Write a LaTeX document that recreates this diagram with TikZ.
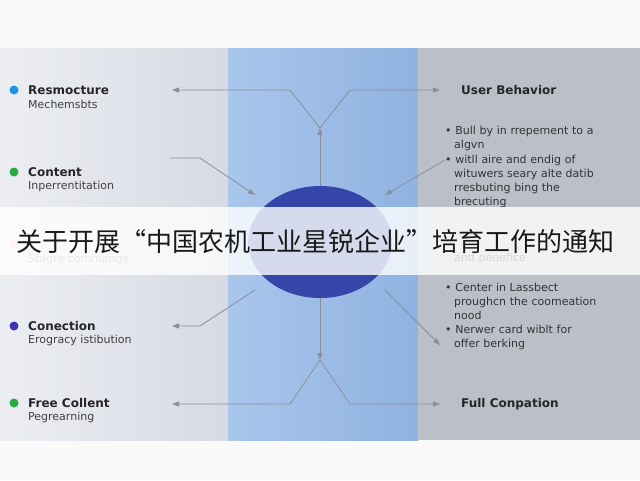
\documentclass[tikz,border=0pt]{standalone}
\usepackage{fontspec}
\setmainfont{DejaVu Sans}
\newfontfamily\cjk{Noto Sans CJK SC}
\usetikzlibrary{arrows.meta,shapes.geometric}
\definecolor{arr}{HTML}{8A8F9A}
\definecolor{lftL}{HTML}{ECEEF2}
\definecolor{lftR}{HTML}{D6DAE2}
\definecolor{midL}{HTML}{A9C6EC}
\definecolor{midR}{HTML}{8FB2E0}
\definecolor{rgt}{HTML}{BBBFC8}
\begin{document}
\begin{tikzpicture}[x=1pt,y=-1pt,
  con/.style={draw=arr,line width=0.8pt},
  tip/.style={con,-{Triangle[length=7pt,width=5pt]}},
  head/.style={anchor=west,font=\bfseries\fontsize{12}{14}\selectfont,text=black!85,inner sep=0},
  sub/.style={anchor=west,font=\fontsize{11}{13}\selectfont,text=black!75,inner sep=0},
  bul/.style={anchor=north west,font=\fontsize{11}{14}\selectfont,text=black!80,inner sep=0,align=left,text width=200pt},
  dot/.style={circle,inner sep=0,minimum size=9pt}]
\useasboundingbox (0,0) rectangle (640,480);
\fill[white!96!gray] (0,0) rectangle (640,480);
\shade[left color=lftL,right color=lftR] (0,48) rectangle (228,440);
\shade[left color=midL,right color=midR] (228,48) rectangle (418,440);
\fill[rgt] (418,48) rectangle (640,440);
\node[ellipse,fill={rgb,255:red,54;green,70;blue,168},minimum width=144pt,minimum height=112pt,inner sep=0] (hub) at (320,242) {};
\coordinate (jt) at (320,128); \coordinate (jb) at (320,360);
\node[dot,fill={rgb,255:red,30;green,150;blue,230}] (d1) at (14,90) {};
\node[head] (h1) at (28,90) {Resmocture}; \node[sub] at (28,104) {Mechemsbts};
\node[dot,fill={rgb,255:red,40;green,170;blue,60}] (d2) at (14,172) {};
\node[head] (h2) at (28,172) {Content}; \node[sub] at (28,186) {Inperrentitation};
\node[dot,fill=pink] at (14,245) {};
\node[sub,text=black!45] at (28,260) {Stagre commange};
\node[dot,fill={rgb,255:red,60;green,50;blue,180}] at (14,326) {};
\node[head] (h4) at (28,326) {Conection}; \node[sub] at (28,340) {Erogracy istibution};
\node[dot,fill={rgb,255:red,40;green,170;blue,60}] at (14,403) {};
\node[head] (h5) at (28,403) {Free Collent}; \node[sub] at (28,417) {Pegrearning};
\node[head] (r1) at (461,90) {User Behavior};
\node[head] (r2) at (461,404) {Full Conpation};
\node[bul] at (445,126) {• Bull by in rrepement to a\\\hspace*{9pt}algvn};
\node[bul] at (445,155) {• witll aire and endig of\\\hspace*{9pt}wituwers seary alte datib\\\hspace*{9pt}rresbuting bing the\\\hspace*{9pt}brecuting};
\node[bul] at (445,253) {\hspace*{9pt}and penefice};
\node[bul] at (445,283) {• Center in Lassbect\\\hspace*{9pt}proughcn the coomeation\\\hspace*{9pt}nood};
\node[bul] at (445,325) {• Nerwer card wiblt for\\\hspace*{9pt}offer berking};
% connectors
\draw[tip] (hub.north) -- (jt);
\draw[tip] (jt) -- (290,90) -- (172,90);
\draw[tip] (jt) -- (350,90) -- (440,90);
\draw[tip] (170,158) -- (200,158) -- (255,195);
\draw[tip] (445,160) -- (385,195);
\draw[tip] (255,290) -- (200,326) -- (172,326);
\draw[tip] (385,290) -- (440,345);
\draw[tip] (hub.south) -- (jb);
\draw[tip] (jb) -- (290,404) -- (172,404);
\draw[tip] (jb) -- (350,404) -- (440,404);
% banner
\fill[white,opacity=0.8] (0,207) rectangle (640,275);
\node[anchor=west,inner sep=0,font=\cjk\fontsize{26}{27}\selectfont,text=black!90] (title) at (16,242) {关于开展“中国农机工业星锐企业”培育工作的通知};
\end{tikzpicture}
\end{document}
